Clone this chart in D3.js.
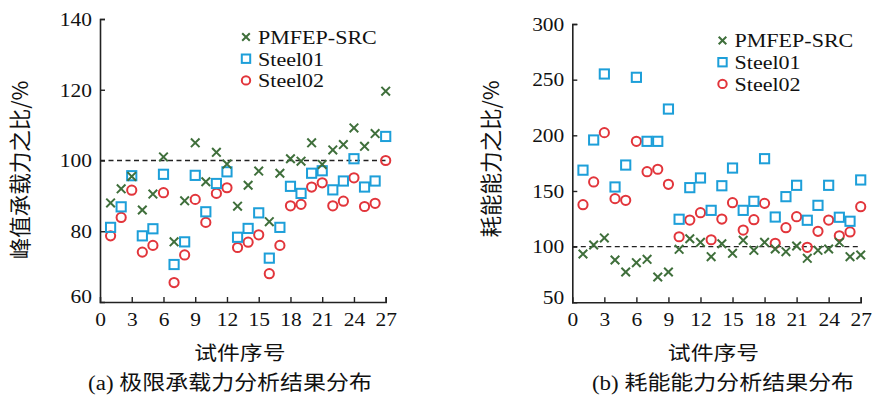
<!DOCTYPE html>
<html>
<head>
<meta charset="utf-8">
<script src="https://cdn.jsdelivr.net/npm/d3@7"></script>
<style>
  body { margin: 0; background: #fff; }
  svg { display: block; }
</style>
</head>
<body>
<svg id="chart" width="873" height="398"></svg>
<script>
// specimen numbers 1..27
const specimens = [1,2,3,4,5,6,7,8,9,10,11,12,13,14,15,16,17,18,19,20,21,22,23,24,25,26,27];
const seriesNames = ["PMFEP-SRC", "Steel01", "Steel02"];
const xTicks = [0,3,6,9,12,15,18,21,24,27];

// (a) peak bearing capacity ratio, %
const loadPMFEP = [88,92,95.5,86,90.5,101,77,88.6,105,94,102.3,99,87.1,93,97,82.7,96.4,100.5,99.8,105,98.9,103,104.5,109.2,104,107.6,119.6];
const loadSteel01 = [81.1,86.9,95.7,78.7,80.7,96.1,70.6,77,95.8,85.5,93.5,96.8,78.3,80.8,85.2,72.4,81.1,92.7,90.7,96.4,97.1,91.7,94.2,100.5,92.5,94.2,106.8];
const loadSteel02 = [78.7,83.9,91.6,74.1,76,90.9,65.5,73.3,89,82.5,90.7,92.3,75.4,76.9,79,68,76,87.2,87.6,92.5,93.7,87.2,88.5,95.1,87,87.9,100];
const loadTicks = [60,80,100,120,140];

// (b) energy dissipation ratio, %
const energyPMFEP = [93.4,101.5,107.8,88,77.2,85.6,88.6,72.7,77.2,97.6,107.1,103.9,91,102.6,94,105.7,96.7,103.9,97.9,95.5,100.6,89.5,96.7,97.9,103.9,91,92.5];
const energySteel01 = [168.7,195.8,255.1,153.6,173.3,252.1,194.6,194.6,223.6,124.6,153,161.7,132.6,154.7,170.6,132.6,140.7,179,126.6,144.9,155.1,123.7,137.1,155.1,126.4,122.8,159.9];
const energySteel02 = [137.7,158.1,202.4,143.1,141.6,194.6,167.3,169.5,156,108.9,123.9,130.5,106.2,124.8,139.5,114.9,124.2,138.9,103,117,126.9,99.4,113.8,123.9,109.8,113.2,135.9];
const energyTicks = [50,100,150,200,250,300];

const colors = {"PMFEP-SRC": "#3f6f3b", "Steel01": "#1d9fd9", "Steel02": "#e2353b"};
const latin = "'Liberation Serif', 'Times New Roman', serif";
const cjk = "'Noto Sans CJK SC', sans-serif";

const svg = d3.select("#chart");

// the reference glyphs are a bit wider than the installed fonts
function stretch(sel, k) {
    sel.each(function () {
        let len = this.getComputedTextLength();
        d3.select(this)
            .attr("textLength", len * k)
            .attr("lengthAdjust", "spacingAndGlyphs");
    });
}

function drawMarker(g, name, cx, cy, s) {
    if (name === "PMFEP-SRC") {
        g.append("path")
            .attr("d", `M${cx - s},${cy - s}L${cx + s},${cy + s}M${cx - s},${cy + s}L${cx + s},${cy - s}`)
            .attr("stroke", colors[name])
            .attr("stroke-width", 2)
            .attr("fill", "none");
    } else if (name === "Steel01") {
        g.append("rect")
            .attr("x", cx - s).attr("y", cy - s)
            .attr("width", 2 * s).attr("height", 2 * s)
            .attr("stroke", colors[name])
            .attr("stroke-width", 2)
            .attr("fill", "none");
    } else {
        g.append("circle")
            .attr("cx", cx).attr("cy", cy).attr("r", s)
            .attr("stroke", colors[name])
            .attr("stroke-width", 2)
            .attr("fill", "none");
    }
}

function ScatterPanel(options = {}) {
    let {left, right, top, bottom, yDomain, yTicks, series, yLabel, labelY, caption, legendX, legendY, labelX, captionX} = options;

    let x = d3.scaleLinear().domain([0, 27]).range([left, right]);
    let y = d3.scaleLinear().domain(yDomain).range([bottom, top]);
    let g = svg.append("g");

    // axes: ticks point inward
    let xAxis = g.append("g")
        .attr("transform", "translate(0," + bottom + ")")
        .call(d3.axisBottom(x).tickValues(xTicks).tickSize(-5).tickPadding(10));
    let yAxis = g.append("g")
        .attr("transform", "translate(" + left + ",0)")
        .call(d3.axisLeft(y).tickValues(yTicks).tickSize(-5).tickPadding(8));
    [xAxis, yAxis].forEach(function (a) {
        a.select(".domain").attr("stroke", "#222").attr("stroke-width", 1.6);
        a.selectAll(".tick line").attr("stroke", "#222").attr("stroke-width", 1.4);
        a.selectAll(".tick text")
            .attr("fill", "#111")
            .style("font-family", latin)
            .style("font-size", "19.5px")
            .call(stretch, 1.1);
    });
    xAxis.selectAll(".tick").filter(d => d === 0).select("line").remove();
    yAxis.selectAll(".tick").filter(d => d === yDomain[0]).select("line").remove();
    yAxis.selectAll(".tick").filter(d => d === yDomain[0]).select("text").attr("dy", "0.05em");

    // reference line at 100 %
    g.append("line")
        .attr("x1", x(0)).attr("x2", x(27))
        .attr("y1", y(100)).attr("y2", y(100))
        .attr("stroke", "#222")
        .attr("stroke-width", 1.3)
        .attr("stroke-dasharray", "5,3.5");

    // points (drawn in reverse so crosses end up on top)
    series.slice().reverse().forEach(function (s) {
        let sg = g.append("g");
        s.values.forEach(function (v, i) {
            drawMarker(sg, s.name, x(specimens[i]), y(v), s.name === "PMFEP-SRC" ? 4.3 : 4.6);
        });
    });

    // legend
    series.forEach(function (s, i) {
        let cy = legendY + i * 21.7;
        drawMarker(g, s.name, legendX, cy, s.name === "PMFEP-SRC" ? 3.8 : 4.2);
        g.append("text")
            .attr("x", legendX + 12)
            .attr("y", cy)
            .attr("dy", "0.35em")
            .style("font-family", latin)
            .style("font-size", "19.5px")
            .attr("fill", "#111")
            .text(s.name)
            .call(stretch, 1.13);
    });

    // y label
    g.append("text")
        .attr("transform", "translate(" + labelX + "," + labelY + ") rotate(-90)")
        .attr("text-anchor", "middle")
        .attr("dy", "0.35em")
        .style("font-family", cjk)
        .style("font-size", "21.5px")
        .attr("fill", "#111")
        .text(yLabel);

    // x label
    g.append("text")
        .attr("x", (left + right) / 2 - 3)
        .attr("y", 353.5)
        .attr("dy", "0.35em")
        .attr("text-anchor", "middle")
        .style("font-family", cjk)
        .style("font-size", "19.5px")
        .attr("fill", "#111")
        .text("试件序号")
        .call(stretch, 1.17);

    // caption
    let cap = g.append("text")
        .attr("x", captionX)
        .attr("y", 384)
        .attr("dy", "0.35em")
        .attr("text-anchor", "middle")
        .attr("fill", "#111");
    cap.append("tspan").style("font-family", latin).style("font-size", "20.5px").text(caption[0] + " ");
    cap.append("tspan").style("font-family", cjk).style("font-size", "20.5px").text(caption[1]);
    cap.call(stretch, 1.12);
}

ScatterPanel({
    left: 100, right: 385.7, top: 19, bottom: 302,
    yDomain: [60, 140], yTicks: loadTicks,
    series: [
        {name: seriesNames[0], values: loadPMFEP},
        {name: seriesNames[1], values: loadSteel01},
        {name: seriesNames[2], values: loadSteel02}
    ],
    yLabel: "峰值承载力之比/%", labelY: 170,
    caption: ["(a)", "极限承载力分析结果分布"],
    legendX: 246, legendY: 37, labelX: 20, captionX: 230
});

ScatterPanel({
    left: 572.3, right: 860.7, top: 24, bottom: 302.3,
    yDomain: [50, 300], yTicks: energyTicks,
    series: [
        {name: seriesNames[0], values: energyPMFEP},
        {name: seriesNames[1], values: energySteel01},
        {name: seriesNames[2], values: energySteel02}
    ],
    yLabel: "耗能能力之比/%", labelY: 159,
    caption: ["(b)", "耗能能力分析结果分布"],
    legendX: 722.5, legendY: 40.5, labelX: 491, captionX: 723
});
</script>
</body>
</html>
